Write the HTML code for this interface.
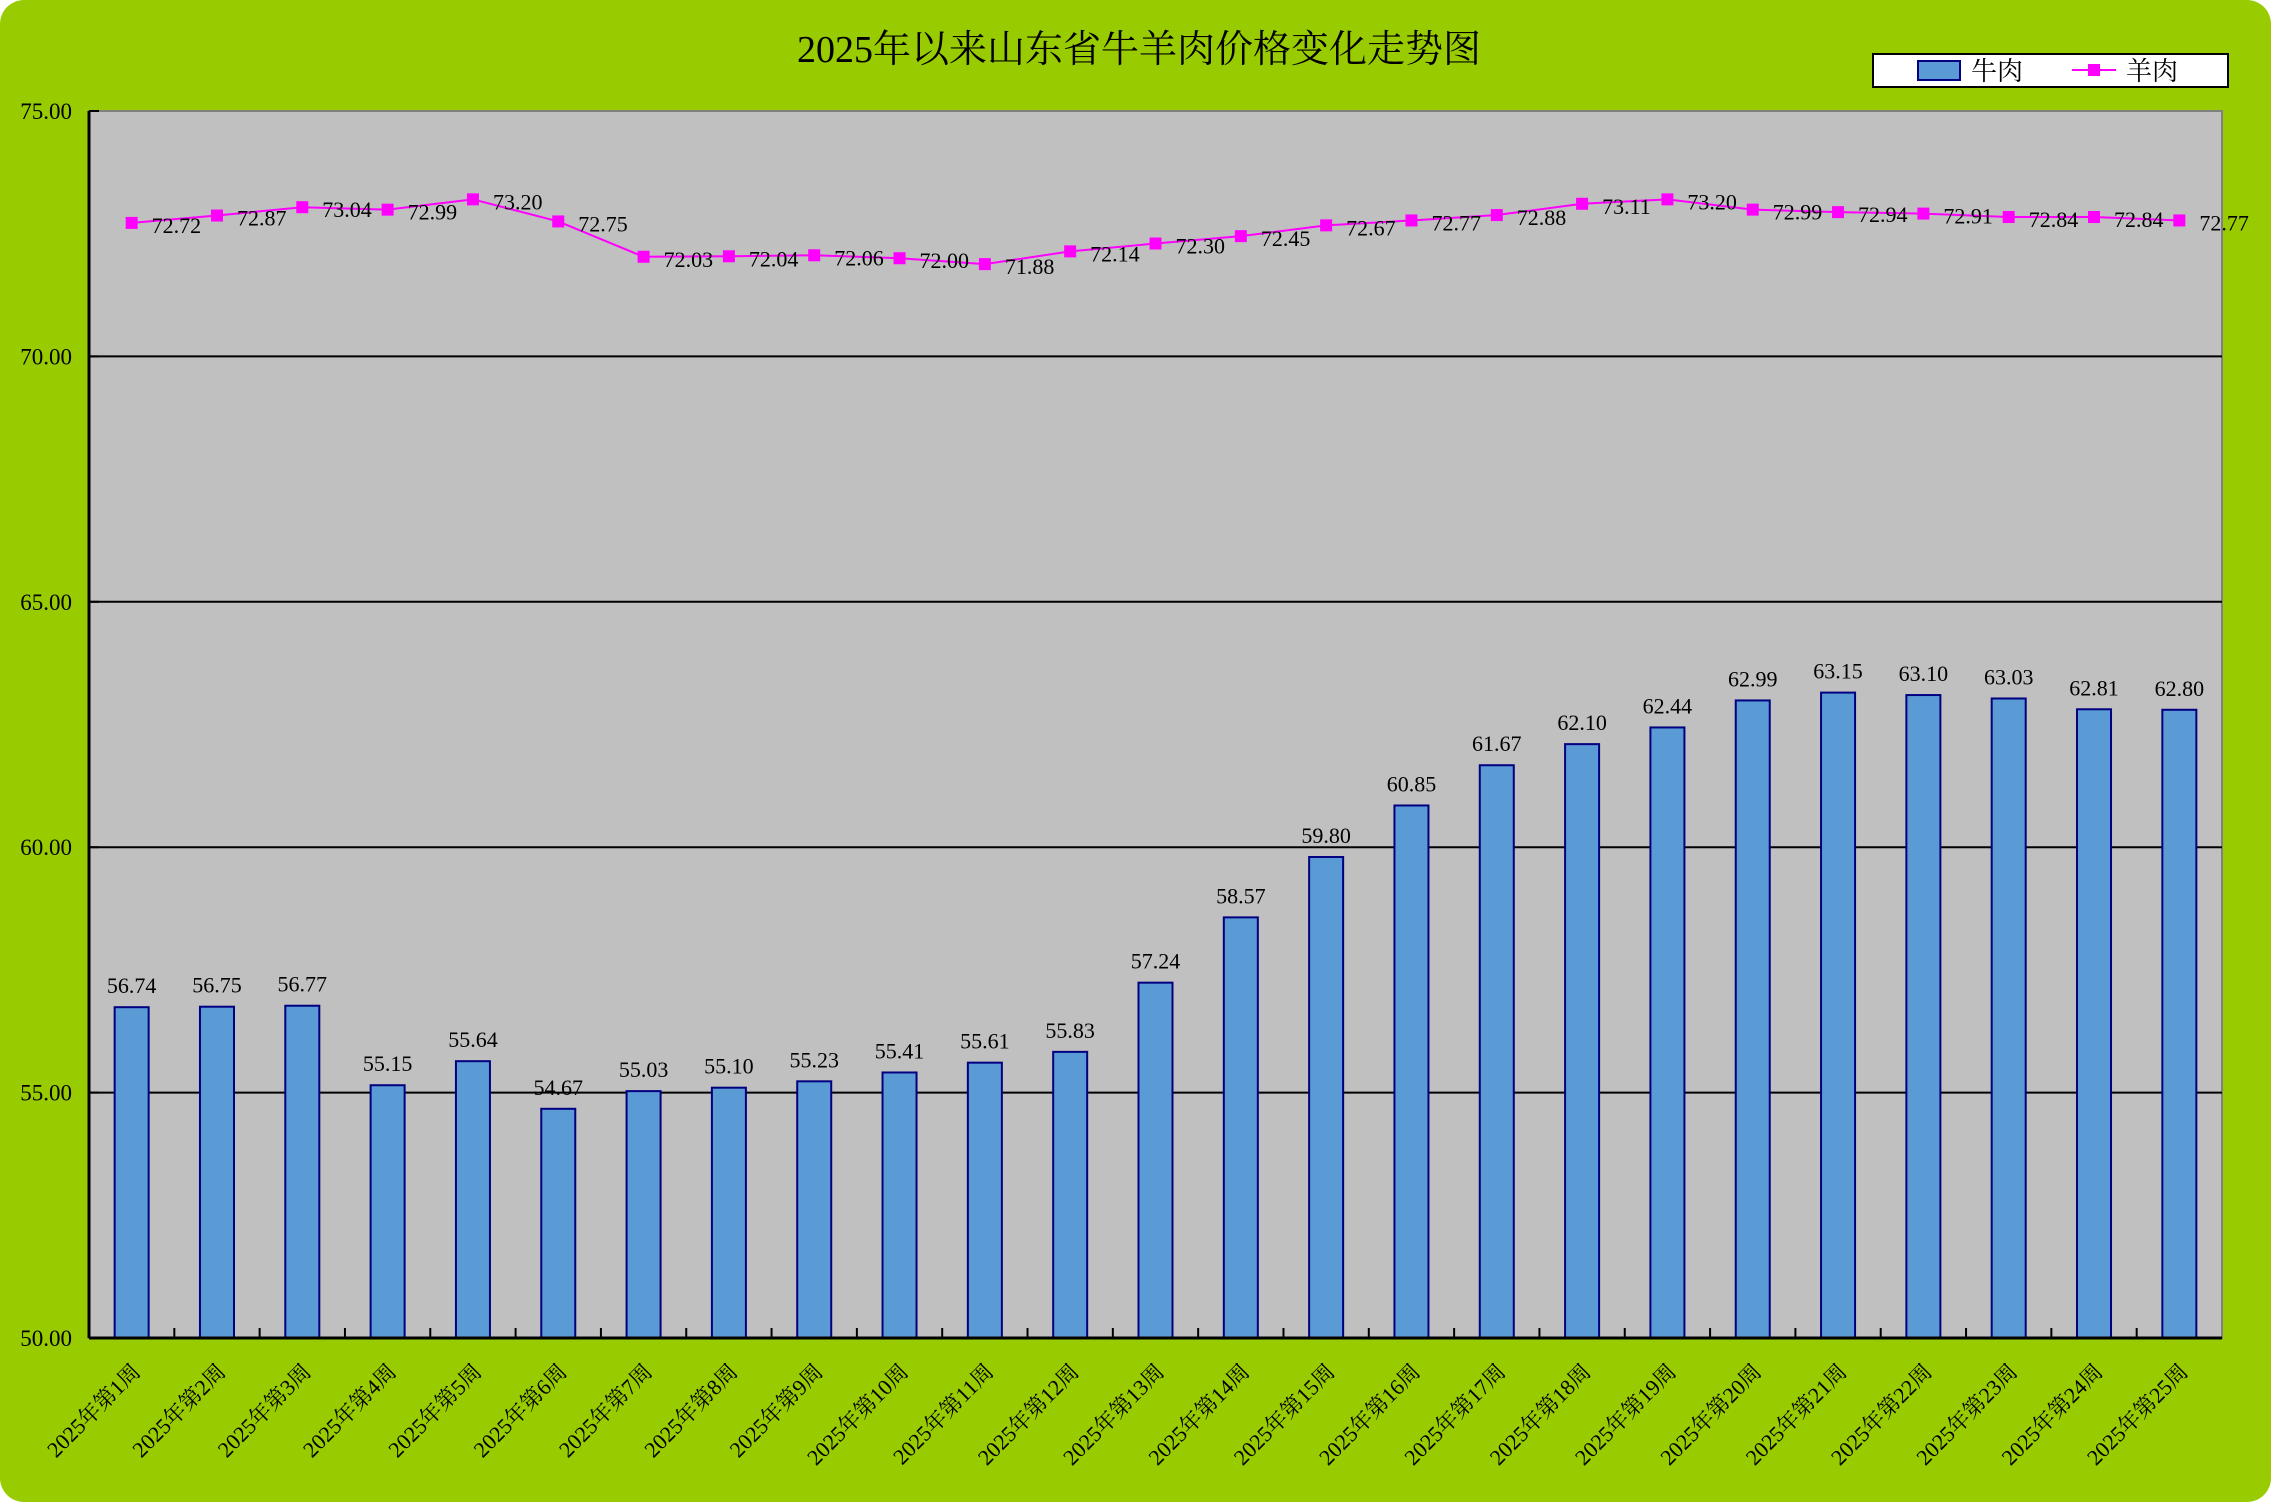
<!DOCTYPE html>
<html><head><meta charset="utf-8"><style>
html,body{margin:0;padding:0;background:#fff;}
svg text{font-family:"Liberation Serif","Noto Serif CJK SC",serif;}
</style></head><body>
<svg id="chart" width="2271" height="1502" xmlns="http://www.w3.org/2000/svg">
<rect x="0" y="0" width="2271" height="1502" rx="24" fill="#99CC00"/>
<text x="1139" y="62" font-size="38" text-anchor="middle">2025年以来山东省牛羊肉价格变化走势图</text>
<rect x="89" y="111" width="2133" height="1227" fill="#C0C0C0" stroke="#808080" stroke-width="2"/>
<g id="grid"></g><g id="bars"></g><g id="line"></g><g id="axes"></g>
<g>
<rect x="1873" y="54" width="355" height="33" fill="#fff" stroke="#000" stroke-width="2"/>
<rect x="1918" y="61" width="42" height="19" fill="#5B9BD5" stroke="#000080" stroke-width="2"/>
<text x="1971" y="80" font-size="26">牛肉</text>
<line x1="2072" y1="70" x2="2116" y2="70" stroke="#FF00FF" stroke-width="2"/>
<rect x="2088" y="64" width="12" height="12" fill="#FF00FF"/>
<text x="2126" y="80" font-size="26">羊肉</text>
</g>
</svg>
<script>
const categories = ["2025年第1周","2025年第2周","2025年第3周","2025年第4周","2025年第5周","2025年第6周","2025年第7周","2025年第8周","2025年第9周","2025年第10周","2025年第11周","2025年第12周","2025年第13周","2025年第14周","2025年第15周","2025年第16周","2025年第17周","2025年第18周","2025年第19周","2025年第20周","2025年第21周","2025年第22周","2025年第23周","2025年第24周","2025年第25周"];
const beef = [56.74,56.75,56.77,55.15,55.64,54.67,55.03,55.10,55.23,55.41,55.61,55.83,57.24,58.57,59.80,60.85,61.67,62.10,62.44,62.99,63.15,63.10,63.03,62.81,62.80];
const mutton = [72.72,72.87,73.04,72.99,73.20,72.75,72.03,72.04,72.06,72.00,71.88,72.14,72.30,72.45,72.67,72.77,72.88,73.11,73.20,72.99,72.94,72.91,72.84,72.84,72.77];
const yTicks = [50,55,60,65,70,75];

const NS="http://www.w3.org/2000/svg";
const L=89,T=111,R=2222,B=1338,yMin=50,yMax=75;
const bw=(R-L)/categories.length;
const y=v=>B-(v-yMin)/(yMax-yMin)*(B-T);
const xc=i=>L+bw*(i+0.5);
function mk(tag,attrs,parent){const e=document.createElementNS(NS,tag);for(const k in attrs)e.setAttribute(k,attrs[k]);document.getElementById(parent).appendChild(e);return e;}
yTicks.forEach(t=>{
  if(t>yMin&&t<yMax){const g=mk('line',{x1:L,x2:R,y1:y(t),y2:y(t),stroke:'#000','stroke-width':2},'grid');
  
  }
  const tx=mk('text',{x:72,y:y(t)+8,'font-size':23,'text-anchor':'end'},'axes');tx.textContent=t.toFixed(2);
  
  
  mk('line',{x1:L,x2:L+10,y1:y(t),y2:y(t),stroke:'#000','stroke-width':2},'axes');
});
beef.forEach((v,i)=>{
  const r=mk('rect',{x:xc(i)-17,y:y(v),width:34,height:B-y(v),fill:'#5B9BD5',stroke:'#000080','stroke-width':2},'bars');
  
  
  const t=mk('text',{x:xc(i),y:y(v)-14,'font-size':22,'text-anchor':'middle'},'bars');t.textContent=v.toFixed(2);
  
  
});
const pts=mutton.map((v,i)=>xc(i)+','+y(v)).join(' ');
const pl=mk('polyline',{points:pts,fill:'none',stroke:'#FF00FF','stroke-width':2},'line');


mutton.forEach((v,i)=>{
  const m=mk('rect',{x:xc(i)-6,y:y(v)-6,width:12,height:12,fill:'#FF00FF'},'line');
  
  
  const t=mk('text',{x:xc(i)+20,y:y(v)+10,'font-size':22},'line');t.textContent=v.toFixed(2);
  
  
});
mk('line',{x1:L,x2:L,y1:T,y2:B,stroke:'#000','stroke-width':3},'axes');
mk('line',{x1:L,x2:R,y1:B,y2:B,stroke:'#000','stroke-width':3},'axes');
categories.forEach((c,i)=>{
  if(i>0)mk('line',{x1:L+bw*i,x2:L+bw*i,y1:B,y2:B-10,stroke:'#000','stroke-width':2},'axes');
  const ax=xc(i)+10,ay=B+35;
  const t=mk('text',{x:ax,y:ay,'font-size':22,'text-anchor':'end',transform:`rotate(-45 ${ax} ${ay})`},'axes');t.textContent=c;
  
  
});
</script>
</body></html>
